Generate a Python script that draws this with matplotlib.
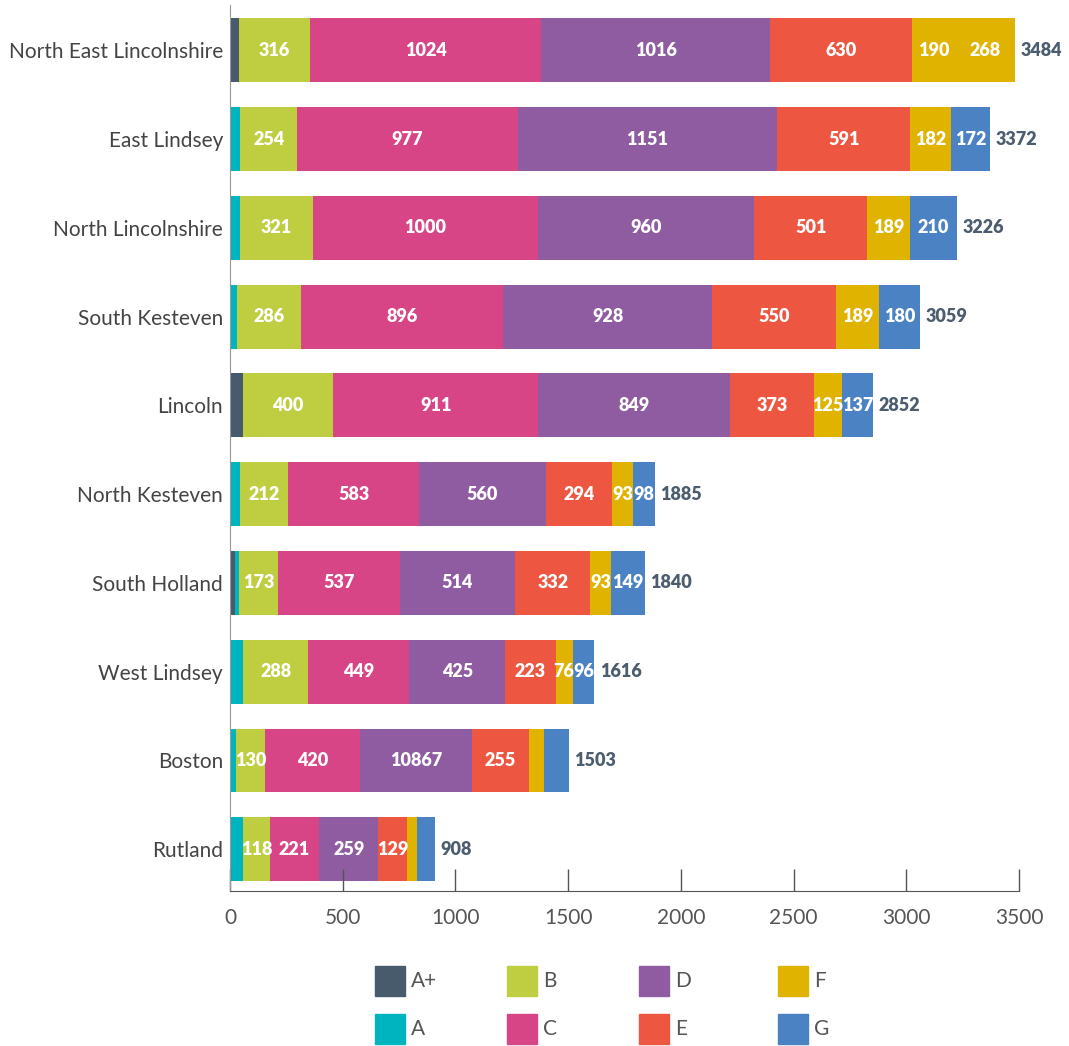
import matplotlib
matplotlib.use("Agg")
import matplotlib.pyplot as plt
from matplotlib.patches import Rectangle
import numpy as np

plt.rcParams['font.family'] = ['Lato', 'DejaVu Sans']

districts = ["North East Lincolnshire", "East Lindsey", "North Lincolnshire",
             "South Kesteven", "Lincoln", "North Kesteven", "South Holland",
             "West Lindsey", "Boston", "Rutland"]
grades = ["A+", "A", "B", "C", "D", "E", "F", "G"]

A_plus = [40, 0, 0, 0, 57, 0, 20, 0, 0, 0]
A = [0, 45, 45, 30, 0, 45, 22, 59, 25, 58]
B = [316, 254, 321, 286, 400, 212, 173, 288, 130, 118]
C = [1024, 977, 1000, 896, 911, 583, 537, 449, 420, 221]
D = [1016, 1151, 960, 928, 849, 560, 514, 425, 498, 259]
E = [630, 591, 501, 550, 373, 294, 332, 223, 255, 129]
F = [190, 182, 189, 189, 125, 93, 93, 76, 67, 44]
G = [268, 172, 210, 180, 137, 98, 149, 96, 108, 79]
totals = [3484, 3372, 3226, 3059, 2852, 1885, 1840, 1616, 1503, 908]

# segment labels as printed on the chart ('' = no label)
A_plus_labels = [''] * 10
A_labels = [''] * 10
B_labels = [str(v) for v in B]
C_labels = [str(v) for v in C]
D_labels = ['1016', '1151', '960', '928', '849', '560', '514', '425', '10867', '259']
E_labels = [str(v) for v in E]
F_labels = ['190', '182', '189', '189', '125', '93', '93', '76', '', '']
G_labels = ['268', '172', '210', '180', '137', '98', '149', '96', '', '']

colors = {"A+": "#475b6c", "A": "#00b4bf", "B": "#bfce40", "C": "#d74587",
          "D": "#905ca1", "E": "#ed5741", "F": "#dfb300", "G": "#4a82c3"}

series = [A_plus, A, B, C, D, E, F, G]
labels = [A_plus_labels, A_labels, B_labels, C_labels, D_labels, E_labels, F_labels, G_labels]

fig = plt.figure(figsize=(10.69, 10.46), dpi=100)
ax = fig.add_axes([230/1069, 1-891/1046, (1019-230)/1069, (891-5)/1046])

y = np.arange(len(districts))
left = np.zeros(len(districts))
bar_h = 0.72
for g, vals, labs in zip(grades, series, labels):
    vals = np.array(vals, dtype=float)
    cols = [colors[g]] * len(districts)
    if g == "G":
        cols[0] = colors["F"]  # NE Lincolnshire G segment shown in F colour
    bars = ax.barh(y, vals, left=left, height=bar_h, color=cols, linewidth=0)
    ax.bar_label(bars, labels=labs, label_type='center', color='white',
                 fontsize=13, fontweight='heavy')
    left += vals

for yi, tot, l in zip(y, totals, left):
    ax.annotate(str(tot), xy=(l, yi), xytext=(4, 0), textcoords='offset points',
                va='center', ha='left', fontsize=13, fontweight='heavy', color='#4b5d6e')

ax.set_yticks(y)
ax.set_yticklabels(districts, fontsize=15, color='#444444')
ax.set_ylim(len(districts) - 1 + 0.47, -0.51)
ax.set_xlim(0, 3500)
ax.set_xticks(np.arange(0, 3501, 500))
ax.tick_params(axis='y', length=0, pad=5)
ax.tick_params(axis='x', direction='in', length=16, width=1, color='#555555',
               pad=12, labelsize=15, labelcolor='#555555')
for s in ['top', 'right']:
    ax.spines[s].set_visible(False)
ax.spines['left'].set_color('#999999')
ax.spines['bottom'].set_color('#555555')

# legend (column-major, 2 rows x 4 columns)
col_x = [375, 507, 639, 778]
row_y = [981, 1029]
for i, g in enumerate(grades):
    cx = col_x[i // 2]
    cy = row_y[i % 2]
    fig.patches.append(Rectangle((cx/1069, 1-(cy+15)/1046), 30/1069, 30/1046,
                                 transform=fig.transFigure, color=colors[g]))
    fig.text((cx+36)/1069, 1-cy/1046, g, fontsize=15, color='#555555',
             va='center', ha='left')

fig.savefig("out.png", dpi=100)
